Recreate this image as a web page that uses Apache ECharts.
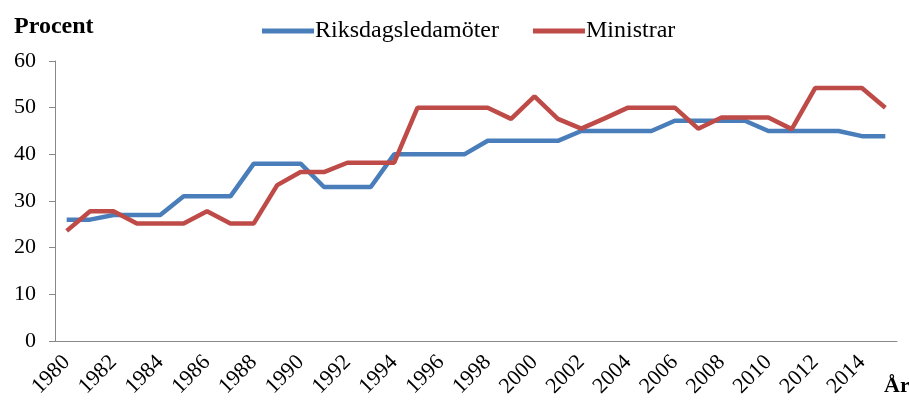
<!DOCTYPE html>
<html>
<head>
<meta charset="utf-8">
<script src="https://cdn.jsdelivr.net/npm/echarts@6/dist/echarts.min.js"></script>
<style>
  html, body { margin: 0; padding: 0; background: #fff; }
  #chart { width: 909px; height: 404px; }
</style>
</head>
<body>
<div id="chart"></div>
<script>
// years on the x axis
const years = [];
for (let y = 1980; y <= 2015; y++) years.push(String(y));

// share of women, percent
const riksdag = [26, 26, 27, 27, 27, 31, 31, 31, 38, 38, 38, 33, 33, 33, 40, 40, 40, 40,
  42.9, 42.9, 42.9, 42.9, 45, 45, 45, 45, 47.2, 47.2, 47.2, 47.2, 45, 45, 45, 45, 43.9, 43.9];
const ministrar = [23.6, 27.8, 27.8, 25.2, 25.2, 25.2, 27.8, 25.2, 25.2, 33.4, 36.2, 36.2, 38.2, 38.2, 38.2,
  50, 50, 50, 50, 47.6, 52.4, 47.6, 45.5, 47.7, 50, 50, 50, 45.5, 47.9, 47.9, 47.9, 45.4, 54.2, 54.2, 54.2, 50];

const font = 'Liberation Serif';
const chart = echarts.init(document.getElementById('chart'));

chart.setOption({
  animation: false,
  textStyle: { fontFamily: font, color: '#000' },
  grid: { left: 55, right: 12, top: 61, bottom: 63 },
  title: [
    { text: 'Procent', left: 9, top: 10,
      textStyle: { fontFamily: font, fontSize: 24, fontWeight: 'bold', color: '#000' } },
    { text: 'År', left: 879, top: 370,
      textStyle: { fontFamily: font, fontSize: 22, fontWeight: 'bold', color: '#000' } }
  ],
  legend: {
    left: 257, top: 14,
    icon: 'rect', itemWidth: 52, itemHeight: 5, itemGap: 34,
    textStyle: { fontFamily: font, fontSize: 24, color: '#000', padding: [0, 0, 0, -4] },
    data: ['Riksdagsledamöter', 'Ministrar']
  },
  xAxis: {
    type: 'category',
    data: years,
    boundaryGap: true,
    axisLine: { lineStyle: { color: '#888', width: 1 } },
    axisTick: { interval: 0, length: 6, lineStyle: { color: '#888' } },
    axisLabel: { interval: 1, rotate: 45, fontFamily: font, fontSize: 22, color: '#000', margin: 18 }
  },
  yAxis: {
    type: 'value',
    min: 0, max: 60, interval: 10,
    splitLine: { show: false },
    axisLine: { show: true, lineStyle: { color: '#888', width: 1 } },
    axisTick: { show: true, length: 6, lineStyle: { color: '#888' } },
    axisLabel: { fontFamily: font, fontSize: 22, color: '#000', margin: 19 }
  },
  series: [
    { name: 'Riksdagsledamöter', type: 'line', data: riksdag, symbol: 'none',
      color: '#4a7ebb', lineStyle: { width: 4.5, color: '#4a7ebb' } },
    { name: 'Ministrar', type: 'line', data: ministrar, symbol: 'none',
      color: '#be4b48', lineStyle: { width: 4.5, color: '#be4b48' } }
  ]
});
</script>
</body>
</html>
